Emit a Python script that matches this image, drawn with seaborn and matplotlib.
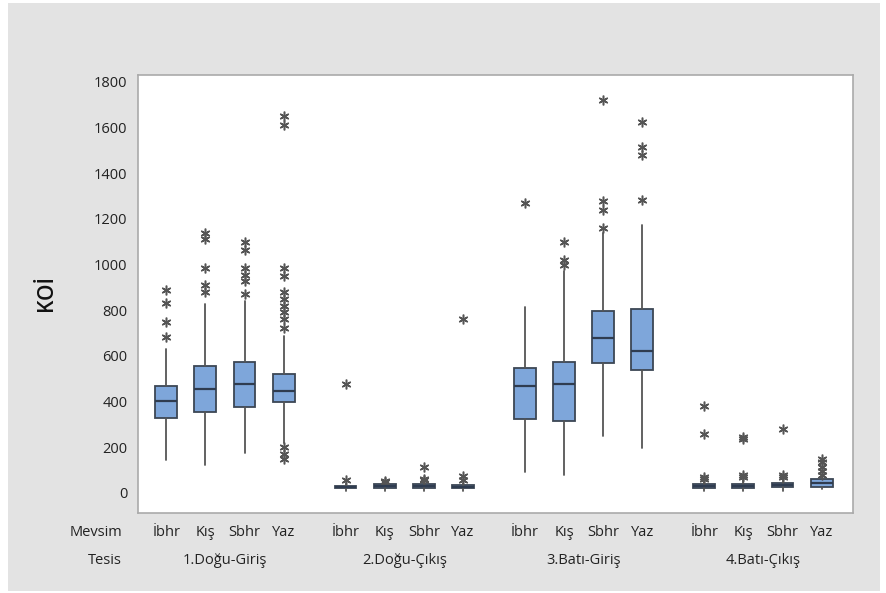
import numpy as np
import matplotlib.pyplot as plt
from matplotlib.patches import Rectangle
import seaborn as sns

# categories
tesis = ["1.Doğu-Giriş", "2.Doğu-Çıkış", "3.Batı-Giriş", "4.Batı-Çıkış"]
mevsim = ["İbhr", "Kış", "Sbhr", "Yaz"]

# box statistics (KOİ), order: tesis x mevsim
whislo = [146, 124, 176, 220,   10, 10, 10, 10,   93, 79, 247, 198,   8, 8, 10, 15]
q1 = [326, 353, 375, 397,   20, 22, 22, 22,   322, 313, 569, 538,   22, 22, 25, 28]
med = [401, 454, 476, 446,   25, 30, 30, 28,   468, 476, 679, 622,   30, 30, 35, 42]
q3 = [468, 556, 573, 520,   30, 38, 40, 35,   547, 573, 798, 807,   40, 40, 45, 60]
whishi = [631, 829, 842, 688,   45, 42, 50, 45,   812, 970, 1138, 1173,   55, 55, 60, 75]
outliers = [
    [890, 830, 750, 684],
    [1140, 1110, 983, 910, 880],
    [1100, 1065, 983, 953, 926, 873],
    [1650, 1610, 983, 950, 880, 850, 820, 793, 763, 720, 200, 172, 150],
    [475, 58],
    [50, 47],
    [115, 60, 55],
    [760, 72, 58],
    [1270],
    [1100, 1020, 1000],
    [1720, 1279, 1240, 1160],
    [1623, 1513, 1478, 1284],
    [380, 258, 70, 60],
    [245, 235, 80, 68],
    [282, 78, 68],
    [150, 135, 115, 95, 80],
]

sns.set_style("white")
plt.rcParams['font.family'] = ['Open Sans', 'DejaVu Sans']

W, H = 886, 593
fig = plt.figure(figsize=(W / 100, H / 100), dpi=100)
fig.patch.set_facecolor('white')
fig.patches.append(Rectangle((8 / W, 1 - 591 / H), (880 - 8) / W, (591 - 3) / H,
                             transform=fig.transFigure, facecolor='#e3e3e3',
                             edgecolor='none', zorder=-10))
ax = fig.add_axes([138 / W, 1 - 513 / H, (853 - 138) / W, (513 - 75) / H])

stats = []
positions = []
for g in range(len(tesis)):
    for i in range(len(mevsim)):
        k = g * len(mevsim) + i
        stats.append(dict(whislo=whislo[k], q1=q1[k], med=med[k], q3=q3[k],
                          whishi=whishi[k], fliers=outliers[k]))
        positions.append(g * 4.58 + i)

ax.bxp(stats, positions=positions, widths=0.56, patch_artist=True,
       showcaps=False,
       boxprops=dict(facecolor='#7ea6da', edgecolor='#3c4654', linewidth=1.3),
       medianprops=dict(color='#2f3c50', linewidth=1.6),
       whiskerprops=dict(color='#555555', linewidth=1.3),
       flierprops=dict(marker=(6, 2, 0), markersize=7, markeredgewidth=1.1,
                       markeredgecolor='#555555', linestyle='none'))

ax.set_ylim(-88, 1830)
ax.set_xlim(-0.72, positions[-1] + 0.8)
ax.set_yticks(np.arange(0, 1801, 200))
ax.tick_params(axis='y', labelsize=10.5, colors='#222222', length=4, color='#999999')
ax.set_xticks(positions)
ax.set_xticklabels(mevsim * len(tesis), fontsize=10.5, color='#222222')
ax.tick_params(axis='x', length=2, color='#999999', pad=7)
for s in ax.spines.values():
    s.set_color('#aaaaaa')
    s.set_linewidth(1.2)

# second row: tesis names
for g, name in enumerate(tesis):
    xd = ax.transData.transform((g * 4.58 + 1.5, 0))[0]
    fig.text(xd / W, 1 - 561 / H, name, ha='center', va='center',
             fontsize=10.5, color='#222222')
fig.text(122 / W, 1 - 532 / H, "Mevsim", ha='right', va='center', fontsize=10.5, color='#222222')
fig.text(122 / W, 1 - 561 / H, "Tesis", ha='right', va='center', fontsize=10.5, color='#222222')

fig.text(46 / W, 1 - 293 / H, "KOİ", rotation=90, ha='center', va='center',
         fontsize=15, fontweight='semibold', color='#111111')

fig.savefig("out.png", dpi=100, facecolor=fig.get_facecolor())
